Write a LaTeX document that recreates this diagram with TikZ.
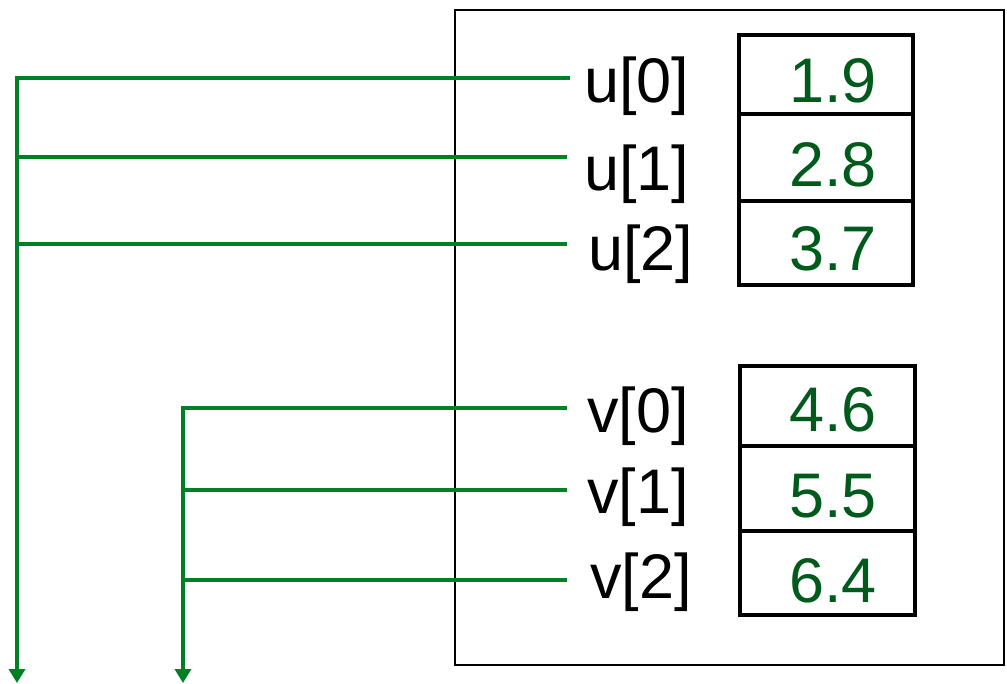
\documentclass[tikz,border=0pt]{standalone}
\usepackage{fontspec}
\setmainfont{Liberation Sans}
\usetikzlibrary{arrows.meta}
\definecolor{lgreen}{RGB}{0,128,36}
\definecolor{tgreen}{RGB}{0,90,28}
\begin{document}
\begin{tikzpicture}[x=1pt,y=-1pt,
  lbl/.style={anchor=base west,inner sep=0pt,font=\fontsize{63}{63}\selectfont},
  num/.style={anchor=base,inner sep=0pt,text=tgreen,font=\fontsize{63}{63}\selectfont},
  cell/.style={draw=black,line width=4pt},
  gl/.style={draw=lgreen,line width=4pt},
  arr/.style={gl,-{Triangle[width=16pt,length=14pt]}}]
\useasboundingbox (0,0) rectangle (1007,683);
\draw[line width=2pt] (455,10) rectangle (1004,665);
% cells
\draw[cell] (739,35) rectangle (913,114);
\draw[cell] (739,114) rectangle (913,201);
\draw[cell] (739,201) rectangle (913,285);
\draw[cell] (740,366) rectangle (915,446);
\draw[cell] (740,446) rectangle (915,531);
\draw[cell] (740,531) rectangle (915,615);
% numbers
\node[num] (n0) at (833,102) {1.9};
\node[num] (n1) at (833,186) {2.8};
\node[num] (n2) at (833,270) {3.7};
\node[num] (n3) at (833,431) {4.6};
\node[num] (n4) at (833,517) {5.5};
\node[num] (n5) at (833,602) {6.4};
% labels
\node[lbl] (u0) at (584,102) {u[0]};
\node[lbl] (u1) at (584,190) {u[1]};
\node[lbl] (u2) at (588,270) {u[2]};
\node[lbl] (v0) at (587,432) {v[0]};
\node[lbl] (v1) at (587,513) {v[1]};
\node[lbl] (v2) at (590,598) {v[2]};
% connectors
\coordinate (ue) at (17,683);
\coordinate (ve) at (183,683);
\coordinate (u0e) at (570,78);
\coordinate (u1e) at (567,157);
\coordinate (u2e) at (567,244);
\coordinate (v0e) at (567,408);
\coordinate (v1e) at (567,490);
\coordinate (v2e) at (567,580);
\draw[arr] (u0e) -| (ue);
\draw[gl] (u1e) -- (u1e -| ue);
\draw[gl] (u2e) -- (u2e -| ue);
\draw[arr] (v0e) -| (ve);
\draw[gl] (v1e) -- (v1e -| ve);
\draw[gl] (v2e) -- (v2e -| ve);
\end{tikzpicture}
\end{document}
